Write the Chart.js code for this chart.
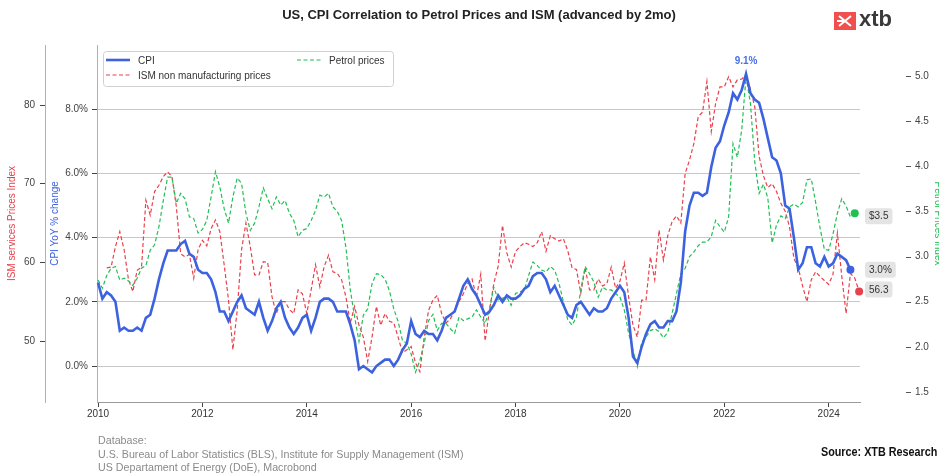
<!DOCTYPE html>
<html>
<head>
<meta charset="utf-8">
<script src="https://cdn.jsdelivr.net/npm/chart.js@4.4.1/dist/chart.umd.min.js"></script>
<style>
  html, body { margin: 0; padding: 0; background: #fff; width: 939px; height: 474px; overflow: hidden; }
  #wrap { position: relative; width: 939px; height: 474px; overflow: hidden; }
  #chart { position: absolute; left: 0; top: 0; }
  .title { position: absolute; top: 7px; left: 0; width: 958px; text-align: center;
           font: bold 13px "Liberation Sans", Arial, sans-serif; color: #222; }
  .logo { position: absolute; left: 834px; top: 12px; width: 22px; height: 18px; }
  .logo-text { position: absolute; left: 859px; top: 7px; font: bold 22px "Liberation Sans", Arial, sans-serif; color: #3a3a3a; line-height: 24px; }
  .notes { position: absolute; left: 98px; top: 434px; font: 11.5px "Liberation Sans Narrow", "Liberation Sans", Arial, sans-serif;
           color: #8a8a8a; line-height: 13.5px; white-space: nowrap; transform: scaleX(0.93); transform-origin: left top; }
  .source { position: absolute; right: 2px; top: 445px; font: bold 12px "Liberation Sans Narrow", "Liberation Sans", Arial, sans-serif;
            color: #111; white-space: nowrap; transform: scaleX(0.9); transform-origin: right top; }
</style>
</head>
<body>
<div id="wrap">
  <canvas id="chart" width="950" height="474"></canvas>
  <div class="title">US, CPI Correlation to Petrol Prices and ISM (advanced by 2mo)</div>
  <svg class="logo" viewBox="0 0 22 18"><rect width="22" height="18" fill="#ef4f4f"/><path d="M5 4 L11 9 L5 14 M17 4 L11 9 L17 14 M3 9 H11" stroke="#fff" stroke-width="2" fill="none"/></svg>
  <div class="logo-text">xtb</div>
  <div class="notes">Database:<br>U.S. Bureau of Labor Statistics (BLS), Institute for Supply Management (ISM)<br>US Departament of Energy (DoE), Macrobond</div>
  <div class="source">Source: XTB Research</div>
</div>
<script>
// monthly series, first point = January 2010
const START_YEAR = 2010;

// CPI YoY % change
const cpiYoY = [
  2.6, 2.1, 2.3, 2.2, 2.0, 1.1, 1.2, 1.1, 1.1, 1.2, 1.1, 1.5,
  1.6, 2.1, 2.7, 3.2, 3.6, 3.6, 3.6, 3.8, 3.9, 3.5, 3.4, 3.0,
  2.9, 2.9, 2.7, 2.3, 1.7, 1.7, 1.4, 1.7, 2.0, 2.2, 1.8, 1.7,
  1.6, 2.0, 1.5, 1.1, 1.4, 1.8, 2.0, 1.5, 1.2, 1.0, 1.2, 1.5,
  1.6, 1.1, 1.5, 2.0, 2.1, 2.1, 2.0, 1.7, 1.7, 1.7, 1.3, 0.8,
  -0.1, 0.0, -0.1, -0.2, 0.0, 0.1, 0.2, 0.2, 0.0, 0.2, 0.5, 0.7,
  1.4, 1.0, 0.9, 1.1, 1.0, 1.0, 0.8, 1.1, 1.5, 1.6, 1.7, 2.1,
  2.5, 2.7, 2.4, 2.2, 1.9, 1.6, 1.7, 1.9, 2.2, 2.0, 2.2, 2.1,
  2.1, 2.2, 2.4, 2.5, 2.8, 2.9, 2.9, 2.7, 2.3, 2.5, 2.2, 1.9,
  1.6, 1.5, 1.9, 2.0, 1.8, 1.6, 1.8, 1.7, 1.7, 1.8, 2.1, 2.3,
  2.5, 2.3, 1.5, 0.3, 0.1, 0.6, 1.0, 1.3, 1.4, 1.2, 1.2, 1.4,
  1.4, 1.7, 2.6, 4.2, 5.0, 5.4, 5.4, 5.3, 5.4, 6.2, 6.8, 7.0,
  7.5, 7.9, 8.5, 8.3, 8.6, 9.1, 8.5, 8.3, 8.2, 7.7, 7.1, 6.5,
  6.4, 6.0, 5.0, 4.9, 4.0, 3.0, 3.2, 3.7, 3.7, 3.2, 3.1, 3.4,
  3.1, 3.2, 3.5, 3.4, 3.3, 3.0
];

// ISM services prices index, shifted forward 2 months
const ismPrices = [
  null, null, 59.3, 59.4, 62.0, 63.9, 61.6, 57.8, 56.3, 59.0, 59.4, 67.9,
  66.0, 69.0, 69.8, 70.9, 71.5, 70.9, 67.1, 61.1, 60.7, 61.0, 58.0, 61.6,
  62.8, 62.1, 64.3, 65.4, 63.9, 59.7, 55.2, 48.9, 53.9, 61.6, 65.0, 62.0,
  58.4, 58.4, 60.1, 60.0, 55.6, 53.5, 55.0, 55.0, 54.0, 53.5, 56.5, 56.0,
  53.5, 56.5, 59.7, 56.9, 59.5, 60.9, 58.8, 58.6, 57.8, 55.6, 52.3, 54.4,
  52.0, 50.5, 47.4, 50.5, 54.4, 52.0, 53.5, 52.5, 52.3, 50.5, 48.5, 48.9,
  49.3, 47.2, 46.1, 50.5, 53.9, 55.2, 55.8, 53.5, 52.3, 52.8, 53.9, 55.0,
  56.0, 57.3, 57.9, 55.6, 58.5, 50.0, 53.9, 57.3, 59.5, 64.7, 61.2, 59.4,
  61.4, 62.0, 62.5, 62.3, 62.0, 62.5, 63.9, 61.4, 63.4, 63.0, 62.7, 63.0,
  61.5, 59.3, 59.1, 56.1, 59.3, 56.5, 56.5, 57.9, 57.0, 57.3, 59.4, 56.7,
  57.6, 59.9, 55.6, 52.0, 50.5, 55.2, 55.2, 60.7, 57.8, 64.1, 60.3, 63.4,
  65.2, 65.9, 65.0, 71.3, 73.0, 75.1, 78.5, 79.1, 83.0, 76.6, 80.2, 82.3,
  82.3, 83.6, 82.3, 83.2, 83.3, 83.8, 82.0, 79.8, 73.5, 71.0, 69.5, 70.0,
  69.0, 67.5, 66.5, 64.5, 60.5, 59.3, 57.0, 55.0, 57.8, 58.8, 58.2, 57.7,
  57.2, 58.5, 63.7, 58.3, 53.5, 58.6, 58.0, 56.3
];

// regular petrol, USD per gallon
const petrolPrices = [
  2.74, 2.65, 2.79, 2.87, 2.89, 2.74, 2.76, 2.73, 2.68, 2.76, 2.87, 2.90,
  3.07, 3.13, 3.33, 3.62, 3.88, 3.88, 3.59, 3.70, 3.64, 3.44, 3.42, 3.26,
  3.30, 3.40, 3.66, 3.94, 3.77, 3.53, 3.37, 3.66, 3.87, 3.81, 3.48, 3.29,
  3.37, 3.55, 3.76, 3.64, 3.53, 3.66, 3.57, 3.62, 3.48, 3.40, 3.22, 3.29,
  3.31, 3.40, 3.51, 3.68, 3.66, 3.70, 3.55, 3.50, 3.40, 3.10, 2.63, 2.33,
  2.06, 2.35, 2.42, 2.70, 2.81, 2.80, 2.75, 2.62, 2.42, 2.28, 2.07, 2.04,
  1.92, 1.72, 1.85, 2.04, 2.29, 2.36, 2.18, 2.26, 2.26, 2.20, 2.15, 2.33,
  2.29, 2.31, 2.33, 2.41, 2.33, 2.26, 2.41, 2.66, 2.52, 2.54, 2.55, 2.46,
  2.59, 2.61, 2.63, 2.79, 2.94, 2.90, 2.85, 2.83, 2.89, 2.85, 2.70, 2.50,
  2.30, 2.24, 2.33, 2.63, 2.89, 2.81, 2.72, 2.55, 2.66, 2.63, 2.63, 2.59,
  2.55, 2.41, 2.15, 1.96, 1.78, 2.05, 2.11, 2.18, 2.20, 2.17, 2.10, 2.16,
  2.37, 2.59, 2.81, 2.87, 3.00, 3.05, 3.12, 3.16, 3.16, 3.22, 3.40, 3.33,
  3.27, 3.44, 4.25, 4.10, 4.40, 4.99, 4.70, 4.05, 3.70, 3.80, 3.65, 3.15,
  3.35, 3.45, 3.42, 3.55, 3.58, 3.55, 3.60, 3.85, 3.86, 3.60, 3.32, 3.08,
  3.07, 3.25, 3.48, 3.64, 3.56, 3.44, 3.48
];

const yearTicks = [2010, 2012, 2014, 2016, 2018, 2020, 2022, 2024];
const cpiTicks = [0, 2, 4, 6, 8];
const ismTicks = [50, 60, 70, 80];
const petrolTicks = [1.5, 2.0, 2.5, 3.0, 3.5, 4.0, 4.5, 5.0];

const BLUE = '#3d62e0';
const RED = '#e8414c';
const GREEN = '#22bf55';
const FONT = '"Liberation Sans", Arial, sans-serif';
const NARROW = '"Liberation Sans Narrow", "Liberation Sans", Arial, sans-serif';

Chart.defaults.font.family = FONT;
Chart.defaults.font.size = 10;

function toPoints(arr) {
    return arr.map((v, i) => ({ x: START_YEAR + i / 12, y: v }));
}

function lastDot(arr) {
    return ctx => (ctx.dataIndex === arr.length - 1 ? 4 : 0);
}

function fixTicks(list) {
    return scale => { scale.ticks = list.map(v => ({ value: v })); };
}

// keep the axis at a fixed width and stop big label padding from shrinking the plot
function fixWidth(w) {
    return scale => {
        scale.width = w;
        scale.paddingTop = 6;
        scale.paddingBottom = 6;
    };
}

// legend, peak label, end labels and petrol axis tick marks
const extras = {
    id: 'extras',
    afterDatasetsDraw(chart) {
        const { ctx, chartArea, scales } = chart;
        const x = scales.x, yCpi = scales.yCpi, yIsm = scales.yIsm, yPetrol = scales.yPetrol;
        ctx.save();

        // petrol axis tick marks (axis sits away from the plot)
        ctx.strokeStyle = '#555';
        ctx.lineWidth = 1;
        petrolTicks.forEach(v => {
            const y = Math.round(yPetrol.getPixelForValue(v)) + 0.5;
            ctx.beginPath();
            ctx.moveTo(chartArea.right + 46, y);
            ctx.lineTo(chartArea.right + 51, y);
            ctx.stroke();
        });

        // legend box
        const lx = 103, ly = 51, lw = 290, lh = 35;
        ctx.fillStyle = 'rgba(255,255,255,0.85)';
        ctx.strokeStyle = '#d0d0d0';
        ctx.beginPath();
        ctx.roundRect(lx + 0.5, ly + 0.5, lw, lh, 3);
        ctx.fill();
        ctx.stroke();
        const items = [
            { text: 'CPI', color: BLUE, width: 2.6, dash: [], x: 106, y: 60 },
            { text: 'ISM non manufacturing prices', color: RED, width: 1.2, dash: [4, 2.5], x: 106, y: 75 },
            { text: 'Petrol prices', color: GREEN, width: 1.2, dash: [4, 2.5], x: 297, y: 60 }
        ];
        ctx.font = '10px ' + FONT;
        ctx.textBaseline = 'middle';
        ctx.textAlign = 'left';
        items.forEach(it => {
            ctx.strokeStyle = it.color;
            ctx.lineWidth = it.width;
            ctx.setLineDash(it.dash);
            ctx.beginPath();
            ctx.moveTo(it.x, it.y);
            ctx.lineTo(it.x + 24, it.y);
            ctx.stroke();
            ctx.setLineDash([]);
            ctx.fillStyle = '#333';
            ctx.fillText(it.text, it.x + 32, it.y + 1);
        });

        // CPI peak label
        let peak = 0;
        cpiYoY.forEach((v, i) => { if (v > cpiYoY[peak]) peak = i; });
        const px = x.getPixelForValue(START_YEAR + peak / 12);
        const py = yCpi.getPixelForValue(cpiYoY[peak]);
        ctx.font = 'bold 10px ' + FONT;
        ctx.fillStyle = '#4a70e6';
        ctx.textAlign = 'center';
        ctx.fillText(cpiYoY[peak].toFixed(1) + '%', px, py - 13);

        // last value tags
        const tags = [
            { text: '$' + petrolPrices[petrolPrices.length - 1].toFixed(1), y: yPetrol.getPixelForValue(petrolPrices[petrolPrices.length - 1]) + 3 },
            { text: cpiYoY[cpiYoY.length - 1].toFixed(1) + '%', y: yCpi.getPixelForValue(cpiYoY[cpiYoY.length - 1]) },
            { text: ismPrices[ismPrices.length - 1].toFixed(1), y: yIsm.getPixelForValue(ismPrices[ismPrices.length - 1]) - 2 }
        ];
        ctx.font = '10px ' + FONT;
        ctx.textAlign = 'left';
        tags.forEach(t => {
            const w = ctx.measureText(t.text).width + 8;
            ctx.fillStyle = '#e4e4e4';
            ctx.beginPath();
            ctx.roundRect(chartArea.right + 5, t.y - 8, w, 16, 3);
            ctx.fill();
            ctx.fillStyle = '#333';
            ctx.fillText(t.text, chartArea.right + 9, t.y + 0.5);
        });

        ctx.restore();
    }
};

new Chart(document.getElementById('chart'), {
    type: 'line',
    data: {
        datasets: [
            {
                label: 'CPI',
                data: toPoints(cpiYoY),
                yAxisID: 'yCpi',
                borderColor: BLUE,
                backgroundColor: BLUE,
                borderWidth: 2.6,
                pointRadius: lastDot(cpiYoY),
                pointBorderWidth: 0,
                tension: 0,
                clip: false,
                order: 1
            },
            {
                label: 'ISM non manufacturing prices',
                data: toPoints(ismPrices),
                yAxisID: 'yIsm',
                borderColor: RED,
                backgroundColor: RED,
                borderWidth: 1.2,
                borderDash: [4, 2.5],
                pointRadius: lastDot(ismPrices),
                pointBorderWidth: 0,
                tension: 0,
                clip: false,
                order: 3
            },
            {
                label: 'Petrol prices',
                data: toPoints(petrolPrices),
                yAxisID: 'yPetrol',
                borderColor: GREEN,
                backgroundColor: GREEN,
                borderWidth: 1.2,
                borderDash: [4, 2.5],
                pointRadius: lastDot(petrolPrices),
                pointBorderWidth: 0,
                tension: 0,
                clip: false,
                order: 2
            }
        ]
    },
    options: {
        responsive: false,
        animation: false,
        layout: { padding: { top: 45, bottom: 52, left: 0, right: 0 } },
        plugins: {
            legend: { display: false },
            tooltip: { enabled: false }
        },
        scales: {
            x: {
                type: 'linear',
                min: 2009.98,
                max: 2024.6,
                afterBuildTicks: fixTicks(yearTicks),
                afterFit: s => { s.height = 20; },
                grid: { drawOnChartArea: false, tickLength: 5, tickColor: '#444' },
                border: { color: '#9a9a9a' },
                ticks: {
                    autoSkip: false, maxRotation: 0, padding: 1, color: '#333',
                    font: { family: NARROW, size: 10 },
                    callback: v => String(v)
                }
            },
            yCpi: {
                position: 'left',
                weight: 0,
                min: -1.12,
                max: 10.0,
                afterBuildTicks: fixTicks(cpiTicks),
                afterFit: fixWidth(52),
                grid: { color: '#c8c8c8', borderDash: [5, 4], tickLength: 5, tickColor: '#444', tickBorderDash: [] },
                border: { color: '#b0b0b0' },
                ticks: { padding: 4, color: '#444', callback: v => v.toFixed(1) + '%' },
                title: { display: true, text: 'CPI YoY % change', color: BLUE, padding: { top: 4, bottom: 0 } }
            },
            yIsm: {
                position: 'left',
                weight: 1,
                min: 42.25,
                max: 87.63,
                afterBuildTicks: fixTicks(ismTicks),
                afterFit: fixWidth(45),
                grid: { drawOnChartArea: false, tickLength: 5, tickColor: '#444' },
                border: { color: '#b0b0b0' },
                ticks: { padding: 5, color: '#444', callback: v => String(v) },
                title: { display: true, text: 'ISM services Prices Index', color: RED, padding: { top: 6, bottom: 0 } }
            },
            yPetrol: {
                position: 'right',
                min: 1.389,
                max: 5.343,
                afterBuildTicks: fixTicks(petrolTicks),
                afterFit: fixWidth(90),
                grid: { display: false, drawTicks: false, tickLength: 0 },
                border: { display: false },
                ticks: { padding: 55, color: '#444', callback: v => v.toFixed(1) },
                title: { display: true, text: 'Petrol Prices Index', color: GREEN, padding: { top: 6.5, bottom: 0 } }
            }
        }
    },
    plugins: [extras]
});
</script>
</body>
</html>
